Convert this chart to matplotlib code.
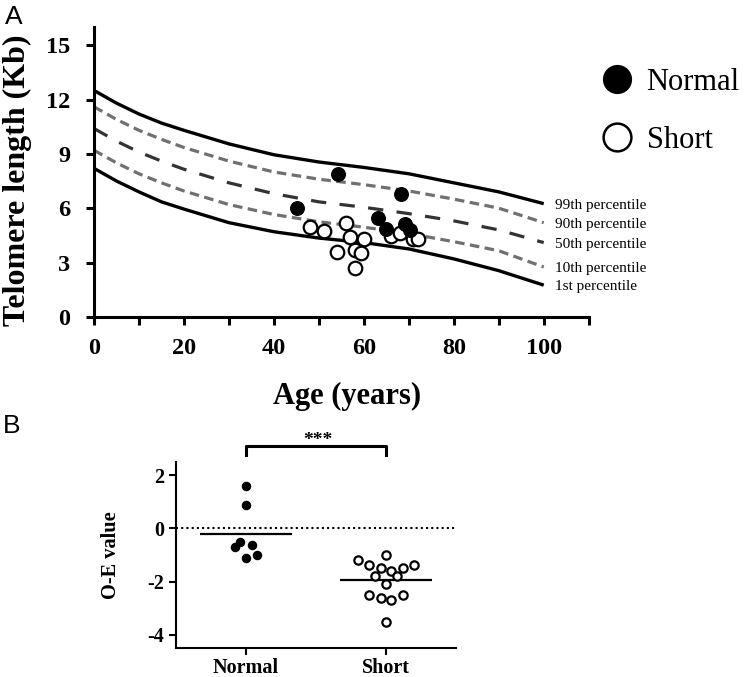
import matplotlib
matplotlib.use("Agg")
import matplotlib.pyplot as plt
from matplotlib.lines import Line2D
import numpy as np

plt.rcParams['font.family'] = ['Liberation Serif', 'DejaVu Serif']

# percentile curves (telomere length in kb vs age)
ages = [0, 5, 10, 15, 20, 30, 40, 50, 60, 70, 80, 90, 100]
p99 = [12.5, 11.8, 11.2, 10.7, 10.3, 9.55, 8.95, 8.55, 8.25, 7.9, 7.4, 6.9, 6.25]
p90 = [11.6, 10.9, 10.3, 9.8, 9.35, 8.6, 8.0, 7.6, 7.3, 6.95, 6.5, 6.0, 5.2]
p50 = [10.4, 9.7, 9.1, 8.6, 8.15, 7.4, 6.8, 6.35, 6.05, 5.7, 5.3, 4.8, 4.1]
p10 = [9.2, 8.5, 7.9, 7.4, 6.95, 6.2, 5.65, 5.25, 4.95, 4.6, 4.15, 3.65, 2.75]
p1 = [8.2, 7.5, 6.9, 6.35, 5.95, 5.2, 4.7, 4.35, 4.1, 3.75, 3.2, 2.55, 1.75]
pct_labels = ["99th percentile", "90th percentile", "50th percentile",
              "10th percentile", "1st percentile"]

# patients
normal_age = [45.1, 54.2, 68.2, 63.2, 65.0, 69.1, 70.2]
normal_tl = [6.0, 7.9, 6.8, 5.48, 4.87, 5.11, 4.8]
short_age = [48.1, 51.1, 56.1, 57.0, 60.1, 54.1, 58.1, 59.3, 58.1, 66.1, 68.0, 71.0, 72.1]
short_tl = [4.98, 4.76, 5.2, 4.39, 4.32, 3.6, 3.7, 3.55, 2.72, 4.47, 4.62, 4.28, 4.3]

# O-E values (panel B)
groups = ["Normal", "Short"]
normal_oe = [1.59, 0.89, -0.51, -0.61, -0.70, -1.12, -1.0]
normal_jit = [0.0, 0.0, -0.043, 0.043, -0.081, 0.0, 0.081]
short_oe = [-1.0, -1.2, -1.39, -1.5, -1.6, -1.5, -1.39, -1.79, -1.79,
            -2.1, -2.5, -2.62, -2.7, -2.5, -3.5]
short_jit = [0.0, -0.2, -0.119, -0.04, 0.038, 0.119, 0.198, -0.081, 0.079,
             0.0, -0.119, -0.04, 0.038, 0.119, 0.0]

fig = plt.figure(figsize=(7.49, 6.77), dpi=100)

# ---------------- panel A ----------------
ax = fig.add_axes([0.1255, 0.532, 0.786 - 0.1255, 0.960 - 0.532])
ax.plot(ages, p99, color='black', lw=2.4, solid_capstyle='butt')
ax.plot(ages, p90, color='#707070', lw=2.3, dashes=(3.0, 1.7))
ax.plot(ages, p50, color='#333333', lw=2.3, dashes=(4.8, 4.2))
ax.plot(ages, p10, color='#707070', lw=2.3, dashes=(3.0, 1.7))
ax.plot(ages, p1, color='black', lw=2.4, solid_capstyle='butt')

for curve, lab in zip([p99, p90, p50, p10, p1], pct_labels):
    ax.text(102.5, curve[-1] - 0.1, lab, fontsize=11, va='center', ha='left')

ax.scatter(normal_age, normal_tl, s=95, color='black', zorder=5)
ax.scatter(short_age, short_tl, s=95, facecolor='white', edgecolor='black',
           linewidth=1.6, zorder=4)

ax.set_xlim(0, 110)
ax.set_ylim(0, 16)
ax.set_xticks([0, 20, 40, 60, 80, 100])
ax.set_xticks([10, 30, 50, 70, 90, 110], minor=True)
ax.set_yticks([0, 3, 6, 9, 12, 15])
for s in ['top', 'right']:
    ax.spines[s].set_visible(False)
for s in ['left', 'bottom']:
    ax.spines[s].set_linewidth(2.2)
ax.tick_params(which='both', direction='out', length=6, width=2.2)
ax.tick_params(axis='x', pad=9)
ax.tick_params(axis='y', pad=11)
for t in ax.get_xticklabels() + ax.get_yticklabels():
    t.set_fontsize(17.5)
    t.set_fontweight('bold')
ax.set_xlabel("Age (years)", fontsize=22, fontweight='bold')
ax.xaxis.set_label_coords(0.512, -0.225)
ax.set_ylabel("Telomere length (Kb)", fontsize=23, fontweight='bold')
ax.yaxis.set_label_coords(-0.125, 0.47)

handles = [Line2D([], [], ls='none', marker='o', ms=20, color='black'),
           Line2D([], [], ls='none', marker='o', ms=20, mfc='white', mec='black', mew=1.8)]
fig.legend(handles, groups, loc='upper left', bbox_to_anchor=(0.804, 0.90),
           frameon=False, fontsize=22, labelspacing=0.95, handlelength=1.0,
           handletextpad=0.45, borderpad=0, borderaxespad=0)

fig.text(0.006, 0.992, "A", fontsize=19, family='Liberation Sans', va='top')
fig.text(0.004, 0.388, "B", fontsize=19, family='Liberation Sans', va='top')

# ---------------- panel B ----------------
bx = fig.add_axes([0.235, 0.0424, 0.609 - 0.235, 0.318 - 0.0424])
bx.axhline(0, color='black', lw=1.5, ls=(0, (1, 1.5)))
bx.scatter(1 + np.array(normal_jit), normal_oe, s=34, color='black', zorder=3)
bx.scatter(2 + np.array(short_jit), short_oe, s=36, facecolor='white',
           edgecolor='black', linewidth=1.6, zorder=3)
bx.hlines(np.mean(normal_oe), 1 - 0.327, 1 + 0.327, color='black', lw=1.6)
bx.hlines(np.mean(short_oe), 2 - 0.327, 2 + 0.327, color='black', lw=1.6)

# significance bracket
bx.plot([1, 1, 2, 2], [2.77, 3.09, 3.09, 2.77], color='black', lw=2.2, clip_on=False)
bx.text(1.51, 2.98, "***", ha='center', va='bottom', fontsize=14, fontweight='bold')

bx.set_xlim(0.5, 2.5)
bx.set_ylim(-4.5, 2.5)
bx.set_xticks([1, 2])
bx.set_xticklabels(groups)
bx.set_yticks([-4, -2, 0, 2])
bx.set_yticklabels(["-4", "-2", "0", "2"])
for s in ['top', 'right']:
    bx.spines[s].set_visible(False)
for s in ['left', 'bottom']:
    bx.spines[s].set_linewidth(1.5)
bx.tick_params(direction='out', length=5, width=1.5)
bx.tick_params(axis='x', pad=2)
for t in bx.get_xticklabels() + bx.get_yticklabels():
    t.set_fontsize(14.5)
    t.set_fontweight('bold')
bx.set_ylabel("O-E value", fontsize=14.7, fontweight='bold')
bx.yaxis.set_label_coords(-0.195, 0.5)

fig.savefig("out.png", dpi=100)
